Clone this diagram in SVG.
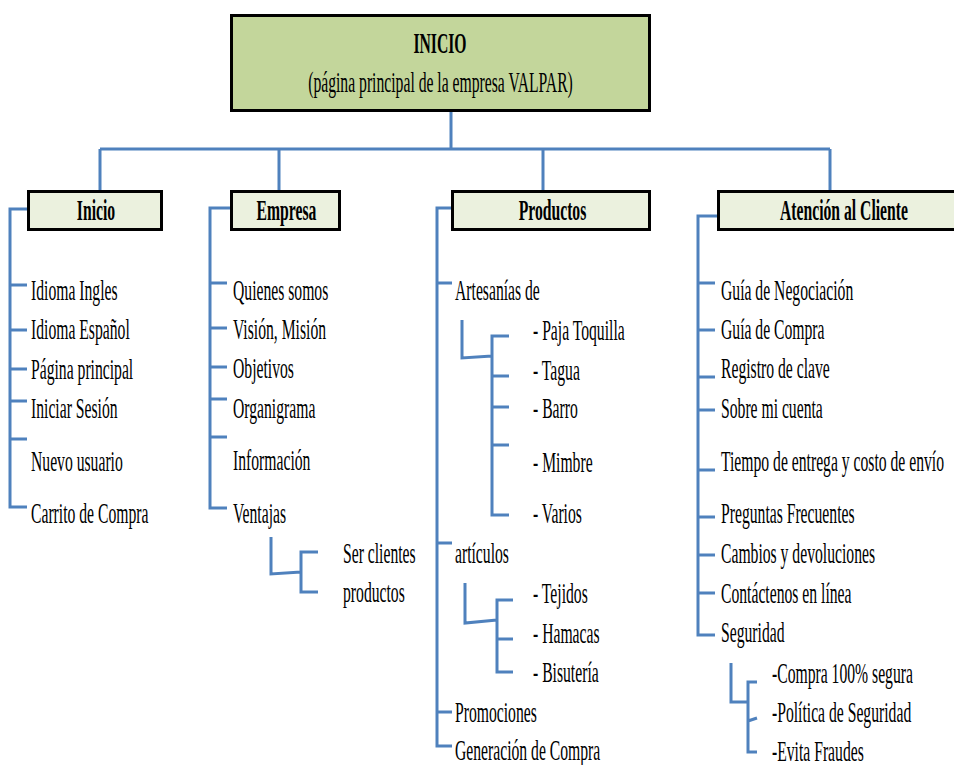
<svg xmlns="http://www.w3.org/2000/svg" width="954" height="765" viewBox="0 0 954 765">
<style>
  text { font-family: "Liberation Serif", "Times New Roman", serif; font-size: 28.5px; fill: #000; }
  .b { font-weight: bold; }
  .mid { text-anchor: middle; }
  .box { stroke: #000; stroke-width: 3; }
  .main { fill: #C3D69B; }
  .hdr { fill: #EBF1DE; }
  .ln { fill: none; stroke: #4F81BD; stroke-width: 3; }
</style>
<rect width="954" height="765" fill="#fff"/>
<g id="connectors">
  <path class="ln" d="M451,112 V149 M100,149 H830 M100,149 V190 M279,149 V190 M543,149 V190 M830,149 V190"/>
  <path class="ln" d="M27,209 H10 V507 H27 M10,285 H27 M10,330 H27 M10,369 H27 M10,401 H27 M10,439 H27"/>
  <path class="ln" d="M230,208 H210 V508 H227 M210,283 H227 M210,328 H227 M210,367 H227 M210,399 H227 M210,437 H227"/>
  <path class="ln" d="M271,537 V574 L301,572 M318,552 H301 V592 H318"/>
  <path class="ln" d="M451,208 H437 V746 H452 M437,283 H452 M437,543 H452 M437,712 H452"/>
  <path class="ln" d="M462,320 V358 L492,356 M509,336 H492 V515 H509 M492,376 H509 M492,407 H509 M492,445 H509"/>
  <path class="ln" d="M465,583 V623 L497,620 M513,600 H497 V672 H513 M497,639 H513"/>
  <path class="ln" d="M717,216 H698 V635 H715 M698,283 H715 M698,330 H715 M698,377 H715 M698,410 H715 M698,470 H715 M698,517 H715 M698,555 H715 M698,593 H715"/>
  <path class="ln" d="M731,663 V702 H748 M757,682 H748 V752 H757 M748,721 L757,718"/>
</g>
<g id="node-inicio-main">
  <rect class="box main" x="231.5" y="15.5" width="418" height="95"/>
  <text class="b mid" transform="translate(440,53) scale(0.55,1)">INICIO</text>
  <text class="mid" transform="translate(440.5,92) scale(0.55,1)">(página principal de la empresa VALPAR)</text>
</g>
<g id="node-inicio">
  <rect class="box hdr" x="28.5" y="191.5" width="133" height="38"/>
  <text class="b mid" transform="translate(96,220) scale(0.55,1)">Inicio</text>
</g>
<g id="node-empresa">
  <rect class="box hdr" x="231.5" y="191.5" width="108" height="38"/>
  <text class="b mid" transform="translate(286.5,220) scale(0.55,1)">Empresa</text>
</g>
<g id="node-productos">
  <rect class="box hdr" x="452.5" y="191.5" width="197" height="38"/>
  <text class="b mid" transform="translate(552.5,220) scale(0.55,1)">Productos</text>
</g>
<g id="node-atencion">
  <rect class="box hdr" x="718.5" y="191.5" width="240" height="38"/>
  <text class="b mid" transform="translate(844,220) scale(0.55,1)">Atención al Cliente</text>
</g>
<g id="items-inicio">
  <text transform="translate(31,300) scale(0.55,1)">Idioma Ingles</text>
  <text transform="translate(31,339) scale(0.55,1)">Idioma Español</text>
  <text transform="translate(31,379) scale(0.55,1)">Página principal</text>
  <text transform="translate(31,418) scale(0.55,1)">Iniciar Sesión</text>
  <text transform="translate(31,471) scale(0.55,1)">Nuevo usuario</text>
  <text transform="translate(31,523) scale(0.55,1)">Carrito de Compra</text>
</g>
<g id="items-empresa">
  <text transform="translate(233,300) scale(0.55,1)">Quienes somos</text>
  <text transform="translate(233,339) scale(0.55,1)">Visión, Misión</text>
  <text transform="translate(233,378) scale(0.55,1)">Objetivos</text>
  <text transform="translate(233,418) scale(0.55,1)">Organigrama</text>
  <text transform="translate(233,470) scale(0.55,1)">Información</text>
  <text transform="translate(233,523) scale(0.55,1)">Ventajas</text>
  <text transform="translate(343,563) scale(0.55,1)">Ser clientes</text>
  <text transform="translate(343,602) scale(0.55,1)">productos</text>
</g>
<g id="items-productos">
  <text transform="translate(455,300) scale(0.55,1)">Artesanías de</text>
  <text transform="translate(533,340) scale(0.55,1)">- Paja Toquilla</text>
  <text transform="translate(533,380) scale(0.55,1)">- Tagua</text>
  <text transform="translate(533,418) scale(0.55,1)">- Barro</text>
  <text transform="translate(533,472) scale(0.55,1)">- Mimbre</text>
  <text transform="translate(533,523) scale(0.55,1)">- Varios</text>
  <text transform="translate(455,563) scale(0.55,1)">artículos</text>
  <text transform="translate(533,603) scale(0.55,1)">- Tejidos</text>
  <text transform="translate(533,643) scale(0.55,1)">- Hamacas</text>
  <text transform="translate(533,682) scale(0.55,1)">- Bisutería</text>
  <text transform="translate(455,722) scale(0.55,1)">Promociones</text>
  <text transform="translate(455,760) scale(0.55,1)">Generación de Compra</text>
</g>
<g id="items-atencion">
  <text transform="translate(721,300) scale(0.55,1)">Guía de Negociación</text>
  <text transform="translate(721,339) scale(0.55,1)">Guía de Compra</text>
  <text transform="translate(721,378) scale(0.55,1)">Registro de clave</text>
  <text transform="translate(721,418) scale(0.55,1)">Sobre mi cuenta</text>
  <text transform="translate(721,471) scale(0.55,1)">Tiempo de entrega y costo de envío</text>
  <text transform="translate(721,523) scale(0.55,1)">Preguntas Frecuentes</text>
  <text transform="translate(721,563) scale(0.55,1)">Cambios y devoluciones</text>
  <text transform="translate(721,603) scale(0.55,1)">Contáctenos en línea</text>
  <text transform="translate(721,642) scale(0.55,1)">Seguridad</text>
  <text transform="translate(772,683) scale(0.55,1)">-Compra 100% segura</text>
  <text transform="translate(772,722) scale(0.55,1)">-Política de Seguridad</text>
  <text transform="translate(772,761) scale(0.55,1)">-Evita Fraudes</text>
</g>
</svg>
